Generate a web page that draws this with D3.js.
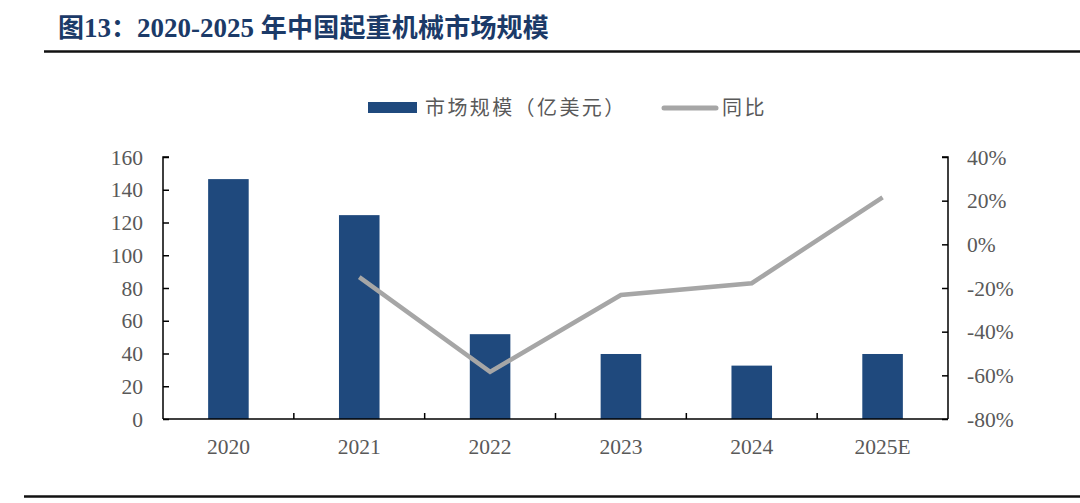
<!DOCTYPE html>
<html>
<head>
<meta charset="utf-8">
<script src="https://cdn.jsdelivr.net/npm/d3@7"></script>
<style>
  body { margin: 0; background: #fff; }
  svg { display: block; }
  .tick-label { font-family: "Liberation Serif", "Times New Roman", serif; font-size: 21.5px; fill: #595959; }
  .legend-label { font-family: "Noto Sans CJK SC", sans-serif; font-size: 20px; fill: #595959; }
</style>
</head>
<body>
<svg id="chart"></svg>
<script>
(function() {
  'use strict';

  const years = ['2020', '2021', '2022', '2023', '2024', '2025E'];
  const marketSize = [146.5, 124.5, 51.8, 39.7, 32.6, 39.7];   // 亿美元
  const growth = [null, -0.15, -0.584, -0.232, -0.178, 0.215];  // 同比
  const leftTicks = [0, 20, 40, 60, 80, 100, 120, 140, 160];
  const rightTicks = [-0.8, -0.6, -0.4, -0.2, 0, 0.2, 0.4];

  const W = 1080, H = 503;
  const left = 163, right = 948, top = 157, bottom = 419;

  const pct = d3.formatLocale({decimal: '.', thousands: ',', grouping: [3], currency: ['', ''], minus: '-'}).format('.0%');

  const svg = d3.select('#chart').attr('width', W).attr('height', H);

  // title
  const title = svg.append('text')
    .attr('x', 58)
    .attr('y', 37)
    .attr('fill', '#1b3a68')
    .attr('font-weight', 'bold')
    .attr('font-size', 26);
  title.append('tspan').attr('font-family', '"Noto Sans CJK SC", sans-serif').text('图');
  title.append('tspan').attr('font-family', '"Liberation Serif", serif').attr('font-size', 27).text('13');
  title.append('tspan').attr('font-family', '"Noto Sans CJK SC", sans-serif').text('：');
  title.append('tspan').attr('font-family', '"Liberation Serif", serif').attr('font-size', 27).text('2020-2025 ');
  title.append('tspan').attr('font-family', '"Noto Sans CJK SC", sans-serif').attr('letter-spacing', 0.2).text('年中国起重机械市场规模');

  svg.append('line')
    .attr('x1', 44).attr('x2', W).attr('y1', 51.5).attr('y2', 51.5)
    .attr('stroke', '#111').attr('stroke-width', 2.5);

  svg.append('line')
    .attr('x1', 24).attr('x2', W).attr('y1', 496.5).attr('y2', 496.5)
    .attr('stroke', '#111').attr('stroke-width', 2.5);

  const x = d3.scaleBand().domain(years).range([left, right]).paddingInner(0.69).paddingOuter(0.345);
  const xBand = d3.scaleBand().domain(years).range([left, right]);
  const yL = d3.scaleLinear().domain([0, 160]).range([bottom, top]);
  const yR = d3.scaleLinear().domain([-0.8, 0.4]).range([bottom, top]);

  // bars
  svg.append('g')
    .selectAll('rect')
    .data(marketSize)
    .join('rect')
      .attr('x', (d, i) => x(years[i]))
      .attr('width', x.bandwidth())
      .attr('y', d => yL(d))
      .attr('height', d => yL(0) - yL(d))
      .attr('fill', '#1f497d');

  // growth line
  const line = d3.line()
    .defined(d => d != null)
    .x((d, i) => xBand(years[i]) + xBand.bandwidth() / 2)
    .y(d => yR(d));

  svg.append('path')
    .datum(growth)
    .attr('d', line)
    .attr('fill', 'none')
    .attr('stroke', '#a6a6a6')
    .attr('stroke-width', 4.5)
    .attr('stroke-linejoin', 'miter');

  // axes
  const axisLeft = svg.append('g')
    .attr('transform', `translate(${left},0)`)
    .call(d3.axisRight(yL).tickValues(leftTicks).tickSize(6).tickFormat(''));
  axisLeft.select('.domain').attr('d', `M6,${top}H0V${bottom}`);

  const axisRight = svg.append('g')
    .attr('transform', `translate(${right},0)`)
    .call(d3.axisLeft(yR).tickValues(rightTicks).tickSize(6).tickFormat(''));
  axisRight.select('.domain').attr('d', `M-6,${top}H0V${bottom}`);

  const boundaries = years.slice(1).map(d => xBand(d));
  svg.append('g')
    .selectAll('line')
    .data(boundaries)
    .join('line')
      .attr('x1', d => d).attr('x2', d => d)
      .attr('y1', bottom).attr('y2', bottom - 6)
      .attr('stroke', '#000').attr('stroke-width', 1.5);

  svg.append('line')
    .attr('x1', left).attr('x2', right).attr('y1', bottom).attr('y2', bottom)
    .attr('stroke', '#000').attr('stroke-width', 1.5);

  svg.selectAll('.domain, .tick line').attr('stroke', '#000').attr('stroke-width', 1.5);

  // tick labels
  svg.append('g')
    .selectAll('text')
    .data(leftTicks)
    .join('text')
      .attr('class', 'tick-label')
      .attr('x', 143)
      .attr('y', d => yL(d))
      .attr('dy', '0.35em')
      .attr('text-anchor', 'end')
      .text(d => d);

  svg.append('g')
    .selectAll('text')
    .data(rightTicks)
    .join('text')
      .attr('class', 'tick-label')
      .attr('x', 967)
      .attr('y', d => yR(d))
      .attr('dy', '0.35em')
      .attr('text-anchor', 'start')
      .text(d => pct(d));

  svg.append('g')
    .selectAll('text')
    .data(years)
    .join('text')
      .attr('class', 'tick-label')
      .attr('x', d => xBand(d) + xBand.bandwidth() / 2)
      .attr('y', 446)
      .attr('dy', '0.35em')
      .attr('text-anchor', 'middle')
      .text(d => d);

  // legend
  const legend = svg.append('g');
  legend.append('rect')
    .attr('x', 368).attr('y', 102).attr('width', 49).attr('height', 11)
    .attr('fill', '#1f497d');
  legend.append('text')
    .attr('class', 'legend-label')
    .attr('x', 425).attr('y', 108).attr('dy', '0.35em')
    .attr('letter-spacing', 2.4)
    .text('市场规模（亿美元）');
  legend.append('line')
    .attr('x1', 664).attr('x2', 716).attr('y1', 108).attr('y2', 108)
    .attr('stroke', '#a6a6a6').attr('stroke-width', 5).attr('stroke-linecap', 'round');
  legend.append('text')
    .attr('class', 'legend-label')
    .attr('x', 722).attr('y', 108).attr('dy', '0.35em')
    .attr('letter-spacing', 2.4)
    .text('同比');
})();
</script>
</body>
</html>
